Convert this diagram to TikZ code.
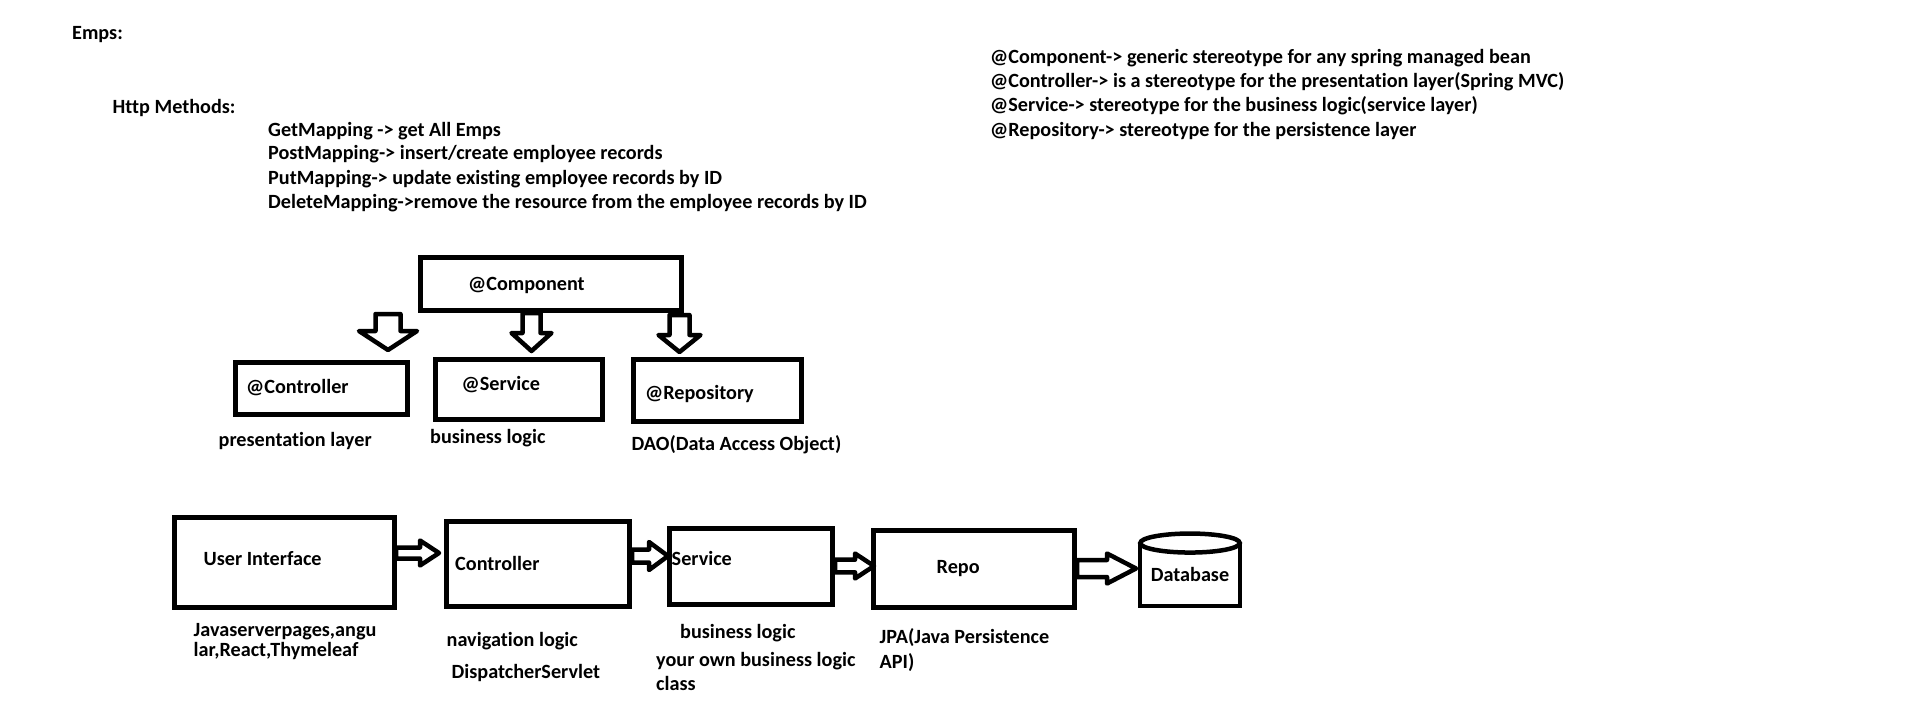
\documentclass[tikz,border=0pt]{standalone}
\usepackage{fontspec}
\setmainfont{Carlito}[Ligatures=NoCommon]
\usetikzlibrary{calc}
\tikzset{
  box/.style={draw, line width=5pt, inner sep=0pt, outer sep=0pt},
  lbl/.style={anchor=base west, inner sep=0pt, font=\bfseries\fontsize{20.2}{24}\selectfont},
  blockarrow/.style={draw, line width=4.5pt, line join=round},
}
\begin{document}
\begin{tikzpicture}[x=1pt, y=-1pt]
    \useasboundingbox (0,0) rectangle (1914,706);
    % notes
    \node[lbl] (emps) at (72,40) {Emps:};
    \node[lbl] (http) at (112.5,114) {Http Methods:};
    \node[lbl] (get) at (268,136) {GetMapping -> get All Emps};
    \node[lbl] (post) at (268,160) {PostMapping-> insert/create employee records};
    \node[lbl] (put) at (268,184) {PutMapping-> update existing employee records by ID};
    \node[lbl] (del) at (268,208) {DeleteMapping->remove the resource from the employee records by ID};
    \node[lbl] (ncmp) at (990,64) {@Component-> generic stereotype for any spring managed bean};
    \node[lbl] (nctl) at (990,88) {@Controller-> is a stereotype for the presentation layer(Spring MVC)};
    \node[lbl] (nsvc) at (990,112) {@Service-> stereotype for the business logic(service layer)};
    \node[lbl] (nrep) at (990,136) {@Repository-> stereotype for the persistence layer};
    % stereotype boxes
    \node[box, minimum width=261pt, minimum height=53pt] (cmp) at (551,284) {};
    \node[box, minimum width=172pt, minimum height=52pt] (ctl) at (321,388) {};
    \node[box, minimum width=167pt, minimum height=60pt] (svc) at (519,389) {};
    \node[box, minimum width=168pt, minimum height=62pt] (rep) at (717,390) {};
    \node[lbl] (cmptxt) at (468,290.5) {@Component};
    \node[lbl] (ctltxt) at (246,393) {@Controller};
    \node[lbl] (svctxt) at (461.5,390.5) {@Service};
    \node[lbl] (reptxt) at (645,399) {@Repository};
    \node[lbl] (ctlnote) at (218.5,446.5) {presentation layer};
    \node[lbl] (svcnote) at (430,443) {business logic};
    \node[lbl] (repnote) at (631.5,450.5) {DAO(Data Access Object)};
    \coordinate (d1s) at (388,314);
    \coordinate (d1e) at (388,350);
    \coordinate (d2s) at (531.5,313);
    \coordinate (d2e) at (531.5,351);
    \coordinate (d3s) at (679.5,315);
    \coordinate (d3e) at (679.5,352);
    \foreach \s/\e/\w/\h/\l in {d1s/d1e/12.5/29/19, d2s/d2e/9/20/18, d3s/d3e/10/21/17}
        \draw[blockarrow] ($(\s)+(-\w,0)$) -- ($(\e)+(-\w,-\l)$) -- ($(\e)+(-\h,-\l)$) -- (\e)
            -- ($(\e)+(\h,-\l)$) -- ($(\e)+(\w,-\l)$) -- ($(\s)+(\w,0)$) -- cycle;
    % layers
    \node[box, minimum width=220pt, minimum height=90pt] (ui) at (284,562.5) {};
    \node[box, minimum width=183pt, minimum height=85pt] (ctrl) at (537.5,563.5) {};
    \node[box, minimum width=163pt, minimum height=76pt] (serv) at (751,566.5) {};
    \node[box, minimum width=201pt, minimum height=77pt] (repo) at (974,569) {};
    \node[inner sep=0pt, minimum width=99.5pt, minimum height=62.5pt,
          font=\bfseries\fontsize{20.2}{24}\selectfont] (db) at (1190,574.5) {Database};
    \draw[line width=4.5pt] (db.north west) -- (db.south west) -- (db.south east) -- (db.north east);
    \draw[line width=4.5pt] (db.north) ellipse[x radius=49.75, y radius=9.5];
    \node[lbl] (uitxt) at (203.5,565) {User Interface};
    \node[lbl] (ctrltxt) at (455,570.5) {Controller};
    \node[lbl] (servtxt) at (671.5,565) {Service};
    \node[lbl] (repotxt) at (936.5,573) {Repo};
    \node[lbl] (uinote1) at (193.5,636.5) {Javaserverpages,angu};
    \node[lbl] (uinote2) at (193.5,656.5) {lar,React,Thymeleaf};
    \node[lbl] (ctrlnote1) at (446.5,646.5) {navigation logic};
    \node[lbl] (ctrlnote2) at (451.5,678) {DispatcherServlet};
    \node[lbl] (servnote1) at (680,638) {business logic};
    \node[lbl] (servnote2) at (656,666.5) {your own business logic};
    \node[lbl] (servnote3) at (656,690) {class};
    \node[lbl] (reponote1) at (879.5,643) {JPA(Java Persistence};
    \node[lbl] (reponote2) at (879.5,668) {API)};
    \coordinate (s1) at (396,553);
    \coordinate (e1) at (439,553);
    \coordinate (s2) at (632,556);
    \coordinate (e2) at (668,556);
    \coordinate (s3) at (835,566);
    \coordinate (e3) at (874,566);
    \coordinate (s4) at (1077,568.5);
    \coordinate (e4) at (1136,568.5);
    \foreach \s/\e/\w/\h/\l in {s1/e1/5.5/12.5/19, s2/e2/6.5/14/19, s3/e3/6.3/12.5/19, s4/e4/8.5/15/29}
        \draw[blockarrow] ($(\s)+(0,-\w)$) -- ($(\e)+(-\l,-\w)$) -- ($(\e)+(-\l,-\h)$) -- (\e)
            -- ($(\e)+(-\l,\h)$) -- ($(\e)+(-\l,\w)$) -- ($(\s)+(0,\w)$) -- cycle;
\end{tikzpicture}
\end{document}
